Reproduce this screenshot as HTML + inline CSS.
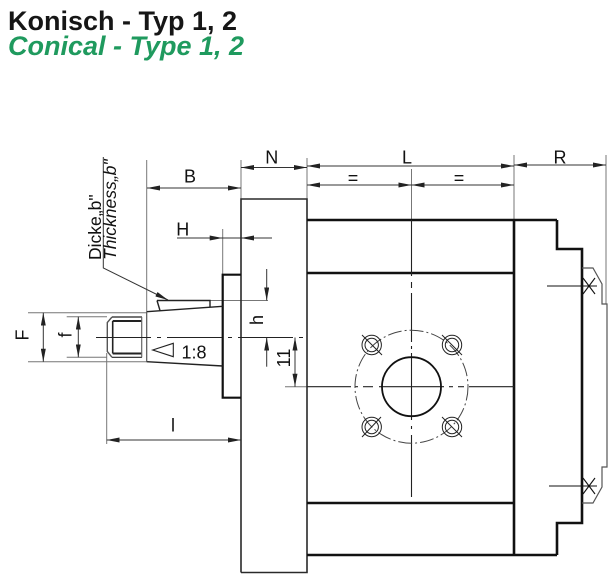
<!DOCTYPE html>
<html><head><meta charset="utf-8"><style>
html,body{margin:0;padding:0;background:#fff;}
svg{display:block;}
text{font-family:"Liberation Sans",sans-serif;}
</style></head><body>
<svg width="615" height="580" viewBox="0 0 615 580" xmlns="http://www.w3.org/2000/svg">
<defs>
<marker id="a" viewBox="0 0 13 5" refX="13" refY="2.5" markerWidth="13" markerHeight="5" markerUnits="userSpaceOnUse" orient="auto-start-reverse"><path d="M0,0 L13,2.5 L0,5 z" fill="#222"/></marker>
</defs>
<rect width="615" height="580" fill="#fff"/>
<text x="8" y="30" font-size="27" font-weight="bold" fill="#161616">Konisch - Typ 1, 2</text>
<text x="8" y="55" font-size="27" font-weight="bold" font-style="italic" fill="#1f9a5e">Conical - Type 1, 2</text>

<!-- extension lines -->
<g stroke="#777" stroke-width="1" fill="none">
<line x1="241" y1="160" x2="241" y2="199"/>
<line x1="307" y1="158" x2="307" y2="220"/>
<line x1="411.5" y1="169" x2="411.5" y2="220"/>
<line x1="514" y1="155" x2="514" y2="220"/>
<line x1="606" y1="155" x2="606" y2="304"/>
<line x1="146.7" y1="160" x2="146.7" y2="311.7"/>
<line x1="222.7" y1="229" x2="222.7" y2="274.7"/>
<line x1="28" y1="312.7" x2="147" y2="312.7"/>
<line x1="28" y1="361.7" x2="147" y2="361.7"/>
<line x1="66.7" y1="316.7" x2="107" y2="316.7"/>
<line x1="66.7" y1="357.3" x2="107" y2="357.3"/>
<line x1="106.7" y1="353" x2="106.7" y2="444"/>
<line x1="157" y1="300.5" x2="268" y2="300.5"/>
<line x1="285" y1="386.7" x2="307" y2="386.7"/>
</g>

<!-- dimension lines -->
<g stroke="#333" stroke-width="1" fill="none">
<line x1="147" y1="188" x2="241" y2="188" marker-start="url(#a)" marker-end="url(#a)"/>
<line x1="241" y1="167.5" x2="307" y2="167.5" marker-start="url(#a)" marker-end="url(#a)"/>
<line x1="307" y1="166" x2="514" y2="166" marker-start="url(#a)" marker-end="url(#a)"/>
<line x1="307" y1="185" x2="411.5" y2="185" marker-start="url(#a)" marker-end="url(#a)"/>
<line x1="411.5" y1="185" x2="514" y2="185" marker-start="url(#a)" marker-end="url(#a)"/>
<line x1="514" y1="165" x2="606" y2="165" marker-start="url(#a)" marker-end="url(#a)"/>
<line x1="177" y1="238" x2="272" y2="238"/>
<line x1="200" y1="238" x2="222.7" y2="238" marker-end="url(#a)"/>
<line x1="265" y1="238" x2="241" y2="238" marker-end="url(#a)"/>
<line x1="43.3" y1="312.7" x2="43.3" y2="361.7" marker-start="url(#a)" marker-end="url(#a)"/>
<line x1="78.3" y1="316.7" x2="78.3" y2="357.3" marker-start="url(#a)" marker-end="url(#a)"/>
<line x1="106.7" y1="440" x2="241" y2="440" marker-start="url(#a)" marker-end="url(#a)"/>
<line x1="266.7" y1="269" x2="266.7" y2="300.5" marker-end="url(#a)"/>
<line x1="266.7" y1="366.7" x2="266.7" y2="337.5" marker-end="url(#a)"/>
<line x1="295" y1="337.5" x2="295" y2="386.7" marker-start="url(#a)" marker-end="url(#a)"/>
<polyline points="103.3,157 103.3,268 168,300" marker-end="url(#a)"/>
</g>

<!-- flange plate -->
<g stroke="#2a2a2a" stroke-width="1.6" fill="none">
<polyline points="241,572.5 241,199 307,199 307,572.5 241,572.5"/>
</g>
<!-- boss -->
<polyline points="241,274.7 222.7,274.7 222.7,397.7 241,397.7" stroke="#111" stroke-width="2.2" fill="none"/>

<!-- body -->
<g stroke="#111" stroke-width="2.6" fill="none">
<line x1="307" y1="220" x2="557" y2="220"/>
<line x1="307" y1="555" x2="557" y2="555"/>
<line x1="307" y1="273" x2="514" y2="273"/>
<line x1="307" y1="503" x2="514" y2="503"/>
<line x1="514" y1="220" x2="514" y2="555"/>
<polyline points="557,220 557,249 582,249 582,523 557,523 557,555"/>
</g>
<!-- cover -->
<polyline points="582,268 593,268 602,284 602,304 607,304 607,467 602,467 602,487 593,503 582,503" stroke="#555" stroke-width="1.2" fill="none"/>
<g stroke="#111" stroke-width="1.1">
<line x1="547" y1="286" x2="597" y2="286"/>
<line x1="583" y1="278" x2="595" y2="294"/>
<line x1="583" y1="294" x2="595" y2="278"/>
<line x1="549" y1="486" x2="597" y2="486"/>
<line x1="583" y1="478" x2="595" y2="494"/>
<line x1="583" y1="494" x2="595" y2="478"/>
</g>

<!-- shaft -->
<g stroke="#222" fill="none">
<line x1="146.7" y1="311.7" x2="222.7" y2="306.3" stroke-width="1.4"/>
<line x1="146.7" y1="361.7" x2="222.7" y2="366" stroke-width="1.4"/>
<line x1="146.7" y1="311.7" x2="146.7" y2="361.7" stroke-width="1.2" stroke="#555"/>
<polyline points="157,300.5 210,300.5 210,307.5" stroke-width="1.4"/>
<line x1="157" y1="300.5" x2="160" y2="310.5" stroke-width="1.4"/>
<!-- thread -->
<line x1="112" y1="317" x2="142" y2="317" stroke-width="1.2"/>
<line x1="112" y1="357.3" x2="142" y2="357.3" stroke-width="1.2"/>
<line x1="112.7" y1="321" x2="142" y2="321" stroke-width="2"/>
<line x1="112.7" y1="353.5" x2="142" y2="353.5" stroke-width="2"/>
<line x1="112.7" y1="321" x2="112.7" y2="353.5" stroke-width="1.6"/>
<line x1="141.7" y1="317" x2="141.7" y2="357.3" stroke-width="1.2" stroke="#666"/>
<polyline points="112,317 107.3,322.5 107.3,351.5 112,357.3" stroke-width="1.4" stroke="#555"/>
<!-- taper symbol -->
<polygon points="152.7,350 173.3,343.3 173.3,356.7" stroke-width="1.1"/>
</g>

<!-- centerlines -->
<line x1="96" y1="337.5" x2="306" y2="337.5" stroke="#222" stroke-width="1" stroke-dasharray="55 6 4 6"/>
<g stroke="#222" stroke-width="1.1">
<line x1="411.5" y1="220" x2="411.5" y2="276"/>
<line x1="411.5" y1="282" x2="411.5" y2="288"/>
<line x1="411.5" y1="293" x2="411.5" y2="342"/>
<line x1="411.5" y1="346" x2="411.5" y2="349"/>
<line x1="411.5" y1="353" x2="411.5" y2="420"/>
<line x1="411.5" y1="426" x2="411.5" y2="429"/>
<line x1="411.5" y1="435" x2="411.5" y2="497"/>
<line x1="307" y1="386.7" x2="351" y2="386.7"/>
<line x1="355" y1="386.7" x2="358" y2="386.7"/>
<line x1="363" y1="386.7" x2="373" y2="386.7"/>
<line x1="379" y1="386.7" x2="444" y2="386.7"/>
<line x1="449" y1="386.7" x2="453" y2="386.7"/>
<line x1="458" y1="386.7" x2="464" y2="386.7"/>
<line x1="469" y1="386.7" x2="514" y2="386.7"/>
</g>
<circle cx="411.5" cy="386.7" r="56.5" stroke="#444" stroke-width="1" fill="none" stroke-dasharray="14 3 2 3"/>
<circle cx="411.5" cy="386.7" r="29.5" stroke="#111" stroke-width="1.8" fill="none"/>

<!-- bolt holes -->
<g stroke="#222" stroke-width="1" fill="none">
<circle cx="371.7" cy="345" r="9.7"/><circle cx="371.7" cy="345" r="6.7"/>
<line x1="362" y1="335" x2="382" y2="355"/>
<circle cx="452" cy="345" r="9.7"/><circle cx="452" cy="345" r="6.7"/>
<line x1="442" y1="335" x2="462" y2="355"/>
<circle cx="371.7" cy="427" r="9.7"/><circle cx="371.7" cy="427" r="6.7"/>
<line x1="381" y1="417" x2="362" y2="437"/>
<circle cx="452" cy="427" r="9.7"/><circle cx="452" cy="427" r="6.7"/>
<line x1="442" y1="417" x2="462" y2="437"/>
</g>

<!-- labels -->
<g font-size="18" fill="#111" text-anchor="middle">
<text x="271.7" y="163.3">N</text>
<text x="407" y="163.3">L</text>
<text x="560" y="163.3">R</text>
<text x="353" y="184">=</text>
<text x="459" y="184">=</text>
<text x="190" y="182.5">B</text>
<text x="182.7" y="235.5">H</text>
<text x="173" y="431.5">l</text>
<text transform="translate(28.5,335) rotate(-90)">F</text>
<text transform="translate(71.5,335) rotate(-90)">f</text>
<text transform="translate(263,320) rotate(-90)">h</text>
<text transform="translate(290,358) rotate(-90)">11</text>
</g>
<text x="181.5" y="358.3" font-size="18" fill="#111">1:8</text>
<text transform="translate(101,260) rotate(-90)" font-size="17.5" fill="#111">Dicke„b"</text>
<text transform="translate(116,260) rotate(-90)" font-size="17.5" font-style="italic" fill="#111">Thickness„b"</text>
</svg>
</body></html>
